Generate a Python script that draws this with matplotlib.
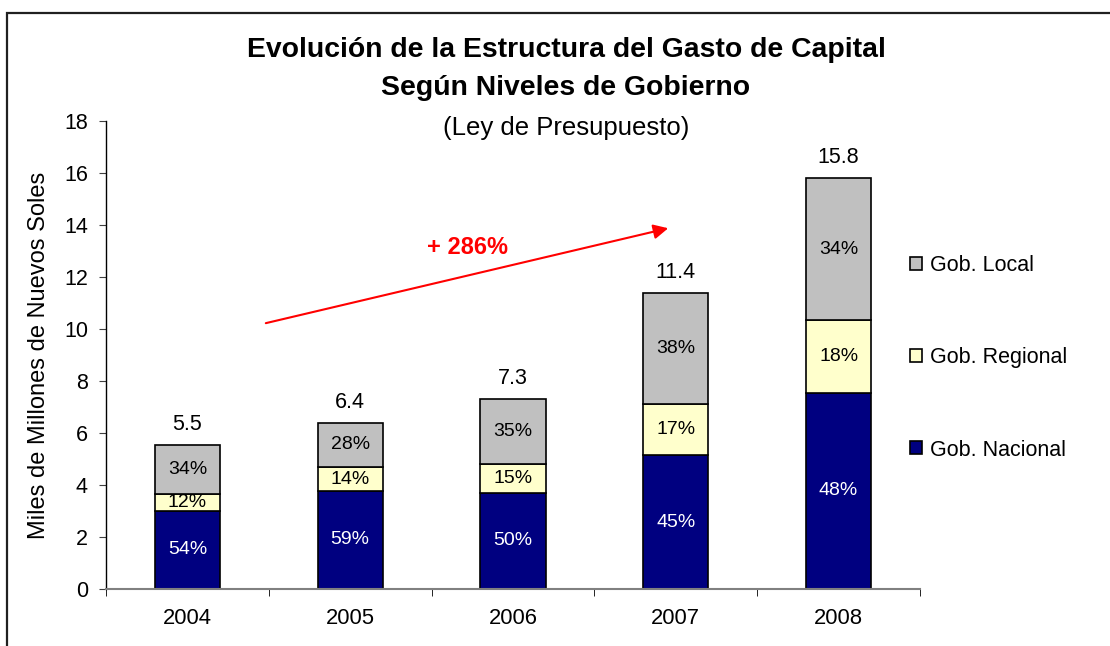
import matplotlib
matplotlib.use("Agg")
import matplotlib.pyplot as plt
from matplotlib.patches import Rectangle
import numpy as np

plt.rcParams['font.family'] = ['Liberation Sans', 'DejaVu Sans']

years = ["2004", "2005", "2006", "2007", "2008"]
nacional = [3.0, 3.78, 3.7, 5.15, 7.55]
regional = [0.65, 0.9, 1.1, 1.95, 2.8]
local = [1.9, 1.72, 2.5, 4.3, 5.45]
totals = [5.5, 6.4, 7.3, 11.4, 15.8]
pct_nac = ["54%", "59%", "50%", "45%", "48%"]
pct_reg = ["12%", "14%", "15%", "17%", "18%"]
pct_loc = ["34%", "28%", "35%", "38%", "34%"]

fig = plt.figure(figsize=(11.1, 6.46), dpi=100)
ax = fig.add_axes([106/1110, 57/646, 814/1110, 468/646])

x = np.arange(len(years))
nac = np.array(nacional)
reg = np.array(regional)
loc_ = np.array(local)
w = 0.4

b1 = ax.bar(x, nac, w, color="#000080", edgecolor="black", linewidth=1.2, label="Gob. Nacional")
b2 = ax.bar(x, reg, w, bottom=nac, color="#FFFFCC", edgecolor="black", linewidth=1.2, label="Gob. Regional")
b3 = ax.bar(x, loc_, w, bottom=nac + reg, color="#C0C0C0", edgecolor="black", linewidth=1.2, label="Gob. Local")

fs = 15.5
pfs = 14
for i in range(len(years)):
    ax.text(x[i], nac[i] / 2, pct_nac[i], ha="center", va="center", color="white", fontsize=pfs)
    ax.text(x[i], nac[i] + reg[i] / 2, pct_reg[i], ha="center", va="center", color="black", fontsize=pfs)
    ax.text(x[i], nac[i] + reg[i] + loc_[i] / 2, pct_loc[i], ha="center", va="center", color="black", fontsize=pfs)
    top = nac[i] + reg[i] + loc_[i]
    ax.annotate(str(totals[i]), (x[i], top), xytext=(0, 7), textcoords="offset points",
                ha="center", va="bottom", fontsize=fs)

ax.set_xlim(-0.5, 4.5)
ax.set_ylim(0, 18)
ax.set_yticks(range(0, 19, 2))
ax.set_xticks(x)
ax.set_xticklabels(years)
ax.set_xticks(np.arange(-0.5, 5, 1), minor=True)
ax.tick_params(axis="x", which="major", length=0, labelsize=15.8, pad=14)
ax.tick_params(axis="x", which="minor", length=5, direction="out", color="black")
ax.tick_params(axis="y", length=5, direction="out", labelsize=fs, pad=8, color="#404040")

for s in ["top", "right"]:
    ax.spines[s].set_visible(False)
ax.spines["bottom"].set_color("#808080")
ax.spines["bottom"].set_linewidth(1.5)
ax.spines["left"].set_linewidth(1.0)

ax.set_ylabel("Miles de Millones de Nuevos Soles", fontsize=17, labelpad=10)

# arrow and growth label
ax.annotate("", xy=(2.97, 13.9), xytext=(0.465, 10.2),
            arrowprops=dict(arrowstyle="-|>", color="red", lw=1.5, mutation_scale=22))
ax.text(1.72, 13.15, "+ 286%", color="red", fontsize=17, fontweight="bold", ha="center", va="center")

fig.text(566/1110, 1 - 50/646, "Evolución de la Estructura del Gasto de Capital",
         ha="center", va="center", fontsize=20.4, fontweight="bold")
fig.text(566/1110, 1 - 88/646, "Según Niveles de Gobierno",
         ha="center", va="center", fontsize=20.4, fontweight="bold")
fig.text(566/1110, 1 - 128/646, "(Ley de Presupuesto)", ha="center", va="center", fontsize=18.5)

ax.legend(handles=[b3, b2, b1], loc="center left", bbox_to_anchor=(910/1110, 1 - 358/646),
          bbox_transform=fig.transFigure, frameon=False, fontsize=fs, labelspacing=3.3,
          handlelength=0.55, handleheight=0.55, handletextpad=0.4, borderpad=0, borderaxespad=0)

fig.add_artist(Rectangle((7/1110, -0.1), 1.2, 1 - 12.5/646 + 0.1, transform=fig.transFigure,
                         fill=False, edgecolor="#202020", linewidth=1.6))

fig.savefig("out.png", dpi=100)
